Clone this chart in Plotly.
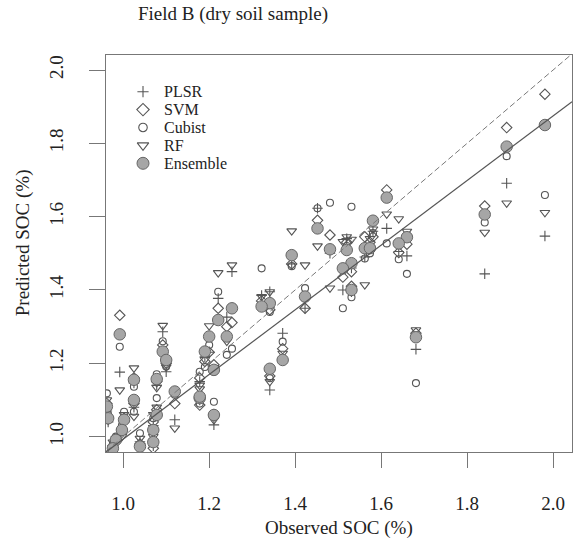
import plotly.graph_objects as go

# ---- data ----
observed = [1.981, 1.892, 1.841, 1.681, 1.660, 1.641, 1.613, 1.581, 1.562, 1.574,
            1.531, 1.511, 1.531, 1.520, 1.481, 1.452, 1.423, 1.392, 1.371, 1.341,
            1.322, 1.341, 1.253, 1.221, 1.200, 1.241, 1.190, 1.211, 1.178, 1.178,
            1.211, 1.092, 1.100, 1.078, 0.992, 1.025, 1.078, 1.070, 1.120, 1.025,
            1.002, 0.997, 0.983, 0.976, 1.039, 1.070, 0.962, 0.965]
plsr = [1.547, 1.691, 1.444, 1.238, 1.493, 1.505, 1.568, 1.560, 1.490, 1.520,
        1.460, 1.400, 1.395, 1.540, 1.500, 1.623, 1.350, 1.471, 1.282, 1.395,
        1.385, 1.127, 1.450, 1.377, 1.230, 1.326, 1.218, 1.180, 1.150, 1.100,
        1.032, 1.286, 1.177, 1.140, 1.176, 1.146, 1.060, 1.030, 1.046, 1.080,
        1.040, 1.010, 0.985, 0.970, 0.986, 0.975, 1.070, 1.040]
svm = [1.934, 1.843, 1.629, 1.282, 1.525, 1.502, 1.673, 1.545, 1.545, 1.530,
       1.450, 1.435, 1.410, 1.530, 1.550, 1.590, 1.350, 1.471, 1.240, 1.346,
       1.370, 1.165, 1.311, 1.350, 1.230, 1.300, 1.205, 1.196, 1.160, 1.086,
       1.060, 1.250, 1.200, 1.150, 1.331, 1.160, 1.073, 1.040, 1.090, 1.090,
       1.050, 1.020, 0.990, 0.975, 0.980, 0.968, 1.090, 1.050]
cubist = [1.659, 1.765, 1.584, 1.146, 1.444, 1.484, 1.527, 1.555, 1.486, 1.500,
          1.627, 1.350, 1.380, 1.520, 1.638, 1.623, 1.405, 1.465, 1.259, 1.340,
          1.459, 1.159, 1.240, 1.395, 1.250, 1.223, 1.190, 1.177, 1.177, 1.090,
          1.095, 1.260, 1.191, 1.170, 1.245, 1.136, 1.105, 1.050, 1.114, 1.068,
          1.068, 1.030, 1.000, 0.980, 1.009, 0.990, 1.118, 1.060]
rf = [1.611, 1.637, 1.557, 1.291, 1.560, 1.594, 1.607, 1.566, 1.414, 1.540,
      1.538, 1.532, 1.395, 1.545, 1.405, 1.520, 1.468, 1.561, 1.227, 1.395,
      1.382, 1.150, 1.468, 1.447, 1.302, 1.260, 1.210, 1.187, 1.140, 1.130,
      1.046, 1.303, 1.190, 1.134, 1.127, 1.187, 1.080, 1.060, 1.023, 1.055,
      1.060, 1.000, 0.995, 0.985, 0.995, 1.000, 1.100, 1.045]
ensemble = [1.850, 1.791, 1.606, 1.271, 1.544, 1.527, 1.652, 1.589, 1.514, 1.514,
            1.473, 1.459, 1.400, 1.509, 1.511, 1.568, 1.382, 1.495, 1.209, 1.364,
            1.355, 1.185, 1.350, 1.318, 1.273, 1.273, 1.232, 1.182, 1.105, 1.109,
            1.059, 1.232, 1.209, 1.157, 1.279, 1.155, 1.059, 1.018, 1.123, 1.100,
            1.046, 1.018, 0.991, 0.968, 0.973, 0.985, 1.082, 1.050]

series_names = ["PLSR", "SVM", "Cubist", "RF", "Ensemble"]

# fitted line and 1:1 line
fit_intercept = 0.111
fit_slope = 0.882

x_range = [0.96, 2.044]
y_range = [0.958, 2.041]
tick_vals = [1.0, 1.2, 1.4, 1.6, 1.8, 2.0]
tick_text = ["1.0", "1.2", "1.4", "1.6", "1.8", "2.0"]

# ---- styles ----
SERIF = "Liberation Serif, Times New Roman, serif"
EDGE = "#555555"
FILL = "#a6a6a6"
styles = {
    "PLSR": dict(symbol="cross-thin-open", size=7.5, color=EDGE, line=dict(width=1.1, color=EDGE)),
    "SVM": dict(symbol="diamond-open", size=8, color=EDGE, line=dict(width=1.1, color=EDGE)),
    "Cubist": dict(symbol="circle-open", size=7, color=EDGE, line=dict(width=1.1, color=EDGE)),
    "RF": dict(symbol="triangle-down-open", size=8.5, color=EDGE, line=dict(width=1.1, color=EDGE)),
    "Ensemble": dict(symbol="circle", size=11.5, color=FILL, line=dict(width=1, color="#666666")),
}
values = {"PLSR": plsr, "SVM": svm, "Cubist": cubist, "RF": rf, "Ensemble": ensemble}

fig = go.Figure()
for name in series_names:
    fig.add_trace(go.Scatter(x=observed, y=values[name], mode="markers", name=name,
                             marker=styles[name], showlegend=False))

# 1:1 line (dashed) and fitted line (solid)
fig.add_trace(go.Scatter(x=x_range, y=x_range, mode="lines", showlegend=False,
                         line=dict(color="#7a7a7a", width=1, dash="6px,3px")))
fig.add_trace(go.Scatter(x=x_range, y=[fit_intercept + fit_slope * v for v in x_range],
                         mode="lines", showlegend=False,
                         line=dict(color="#555555", width=1.2)))

# custom legend (inside plot, top-left) on an overlay axis in [0,1]
leg_x = 0.0794
leg_top = 0.9076
leg_step = 0.0451
for i, name in enumerate(series_names):
    yy = leg_top - i * leg_step
    st = dict(styles[name])
    if name == "Ensemble":
        st["size"] = 12
    elif name == "PLSR":
        st["size"] = 8
    else:
        st["size"] = st["size"] + 1.5
    fig.add_trace(go.Scatter(x=[leg_x], y=[yy], mode="markers", marker=st,
                             xaxis="x2", yaxis="y2", showlegend=False, cliponaxis=False))
    fig.add_annotation(x=0.1202, y=yy, xref="paper", yref="paper", text=name,
                       showarrow=False, xanchor="left", yanchor="middle",
                       font=dict(family=SERIF, size=16, color="#222222"))

axis_common = dict(showgrid=False, zeroline=False, showline=True, mirror=True,
                   linecolor="#777777", linewidth=1, ticks="outside", tickcolor="#777777",
                   tickwidth=1, tickfont=dict(family=SERIF, size=19, color="#222222"),
                   tickvals=tick_vals, ticktext=tick_text)

fig.update_layout(
    width=580, height=552,
    margin=dict(l=106, r=8, t=55, b=100),
    paper_bgcolor="white", plot_bgcolor="white",
    xaxis=dict(range=x_range, ticklen=15, ticklabelstandoff=19, **axis_common),
    yaxis=dict(range=y_range, ticklen=16, tickangle=-90, ticklabelstandoff=18, **axis_common),
    xaxis2=dict(range=[0, 1], overlaying="x", visible=False),
    yaxis2=dict(range=[0, 1], overlaying="y", visible=False),
    title=dict(text="Field B (dry soil sample)", x=233 / 580, xanchor="center",
               xref="container", y=1 - 13 / 552, yref="container", yanchor="middle",
               font=dict(family=SERIF, size=19, color="#222222")),
    showlegend=False,
)

fig.add_annotation(x=0.5, y=-0.192, xref="paper", yref="paper", text="Observed SOC (%)",
                   showarrow=False, xanchor="center", yanchor="middle",
                   font=dict(family=SERIF, size=19, color="#222222"))
fig.add_annotation(x=-0.178, y=0.526, xref="paper", yref="paper", text="Predicted SOC (%)",
                   showarrow=False, xanchor="center", yanchor="middle", textangle=-90,
                   font=dict(family=SERIF, size=19, color="#222222"))

fig.write_html("out.html")
